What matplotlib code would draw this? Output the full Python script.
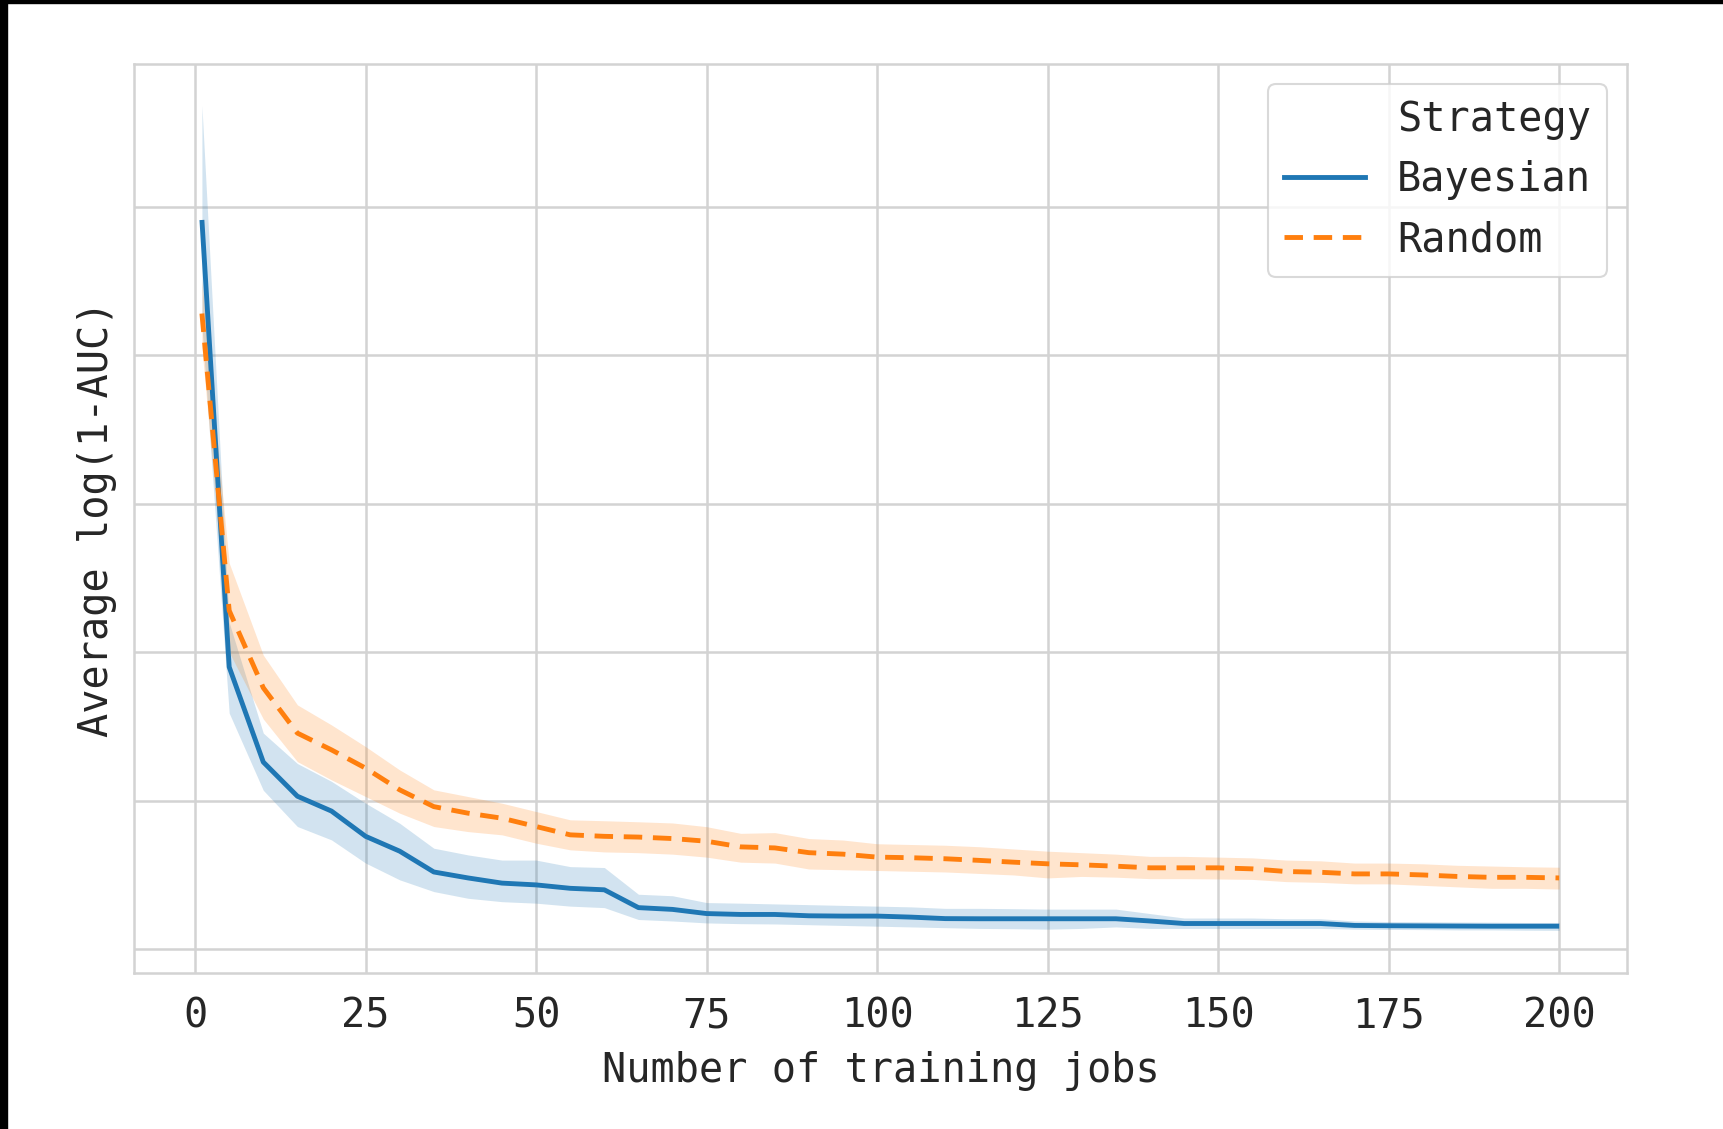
import numpy as np
import matplotlib
matplotlib.use("Agg")
import matplotlib.pyplot as plt
from matplotlib.patches import Rectangle
from matplotlib.lines import Line2D

# number of training jobs
jobs = [1, 5, 10, 15, 20, 25, 30, 35, 40, 45, 50, 55, 60, 65, 70, 75, 80, 85, 90, 95,
        100, 105, 110, 115, 120, 125, 130, 135, 140, 145, 150, 155, 160, 165, 170, 175,
        180, 185, 190, 195, 200]

# Bayesian strategy: mean and confidence band
bayes_mean = [4.91, 1.90, 1.26, 1.03, 0.93, 0.76, 0.66, 0.52, 0.48, 0.445, 0.433, 0.41,
              0.40, 0.28, 0.268, 0.24, 0.234, 0.234, 0.225, 0.223, 0.223, 0.216, 0.206,
              0.205, 0.205, 0.205, 0.205, 0.205, 0.19, 0.173, 0.173, 0.173, 0.173, 0.173,
              0.16, 0.158, 0.157, 0.156, 0.155, 0.155, 0.155]
bayes_lo = [4.20, 1.59, 1.07, 0.826, 0.736, 0.58, 0.467, 0.388, 0.343, 0.32, 0.31, 0.29,
            0.28, 0.20, 0.19, 0.177, 0.172, 0.17, 0.165, 0.16, 0.155, 0.15, 0.145, 0.14,
            0.138, 0.135, 0.14, 0.15, 0.14, 0.14, 0.14, 0.14, 0.14, 0.14, 0.135, 0.133,
            0.132, 0.13, 0.13, 0.128, 0.127]
bayes_hi = [5.68, 2.20, 1.455, 1.25, 1.13, 0.983, 0.848, 0.68, 0.635, 0.60, 0.60, 0.556,
            0.55, 0.37, 0.36, 0.314, 0.31, 0.305, 0.30, 0.295, 0.29, 0.285, 0.275, 0.275,
            0.273, 0.27, 0.27, 0.27, 0.24, 0.21, 0.21, 0.21, 0.205, 0.205, 0.19, 0.186,
            0.185, 0.183, 0.182, 0.18, 0.18]

# Random strategy: mean and confidence band
rand_mean = [4.28, 2.28, 1.76, 1.455, 1.342, 1.219, 1.073, 0.96, 0.916, 0.882, 0.826, 0.77,
             0.76, 0.755, 0.745, 0.727, 0.689, 0.682, 0.65, 0.64, 0.62, 0.616, 0.609, 0.598,
             0.586, 0.575, 0.568, 0.559, 0.548, 0.548, 0.548, 0.541, 0.523, 0.518, 0.507,
             0.507, 0.50, 0.49, 0.484, 0.484, 0.48]
rand_lo = [4.05, 2.0, 1.55, 1.263, 1.14, 1.028, 0.916, 0.826, 0.792, 0.77, 0.714, 0.669,
           0.655, 0.65, 0.64, 0.62, 0.586, 0.58, 0.54, 0.535, 0.53, 0.525, 0.52, 0.51, 0.50,
           0.48, 0.49, 0.485, 0.475, 0.475, 0.473, 0.47, 0.455, 0.45, 0.44, 0.44, 0.43,
           0.42, 0.41, 0.41, 0.405]
rand_hi = [4.50, 2.6, 1.98, 1.645, 1.51, 1.364, 1.207, 1.073, 1.028, 0.983, 0.927, 0.871,
           0.865, 0.858, 0.85, 0.825, 0.78, 0.785, 0.745, 0.735, 0.71, 0.705, 0.70, 0.69,
           0.675, 0.66, 0.65, 0.64, 0.625, 0.625, 0.62, 0.615, 0.60, 0.595, 0.58, 0.58,
           0.575, 0.565, 0.56, 0.555, 0.552]

xticks = [0, 25, 50, 75, 100, 125, 150, 175, 200]
yticks = [0, 1, 2, 3, 4, 5]

plt.rcParams['font.family'] = ['DejaVu Sans Mono']
plt.rcParams['font.size'] = 29
text_col = '#262626'
grid_col = '#d3d3d3'

fig = plt.figure(figsize=(17.23, 11.29), dpi=100)
ax = fig.add_axes([0.0778, 0.1382, 0.8665, 0.8051])

blue = '#1f77b4'
orange = '#ff7f0e'

ax.fill_between(jobs, bayes_lo, bayes_hi, color=blue, alpha=0.2, lw=0)
ax.fill_between(jobs, rand_lo, rand_hi, color=orange, alpha=0.2, lw=0)
ax.plot(jobs, bayes_mean, color=blue, lw=3.5, solid_capstyle='butt')
ax.plot(jobs, rand_mean, color=orange, lw=3.5, dashes=(3.8, 2.2))

ax.set_xlim(-8.95, 209.95)
ax.set_ylim(-0.16, 5.96)
ax.set_xticks(xticks)
ax.set_yticks(yticks)
ax.set_yticklabels([])
ax.tick_params(length=0, pad=17, labelcolor=text_col)
ax.grid(True, color=grid_col, lw=1.8)
ax.set_axisbelow(True)
for s in ax.spines.values():
    s.set_color(grid_col)
    s.set_linewidth(1.8)

ax.set_xlabel('Number of training jobs', color=text_col, labelpad=10.5)
ax.set_ylabel('Average log(1-AUC)', color=text_col, labelpad=-5)

handles = [Line2D([], [], color='none'),
           Line2D([], [], color=blue, lw=3.5),
           Line2D([], [], color=orange, lw=3.5, dashes=(3.8, 2.2))]
labels = ['Strategy', 'Bayesian', 'Random']
leg = ax.legend(handles, labels, loc='upper right', fontsize=29, frameon=True,
                fancybox=True, borderaxespad=0.5, borderpad=0.4, labelspacing=0.5)
leg.get_frame().set_edgecolor('#d0d0d0')
leg.get_frame().set_linewidth(1.5)
for t in leg.get_texts():
    t.set_color(text_col)

# black scan border on the left and top edges
fig.add_artist(Rectangle((0, 0), 7 / 1723, 1, transform=fig.transFigure,
                         color='black', zorder=10))
fig.add_artist(Rectangle((0, 1 - 3 / 1129), 1, 3 / 1129, transform=fig.transFigure,
                         color='black', zorder=10))

fig.savefig('out.png', dpi=100)
